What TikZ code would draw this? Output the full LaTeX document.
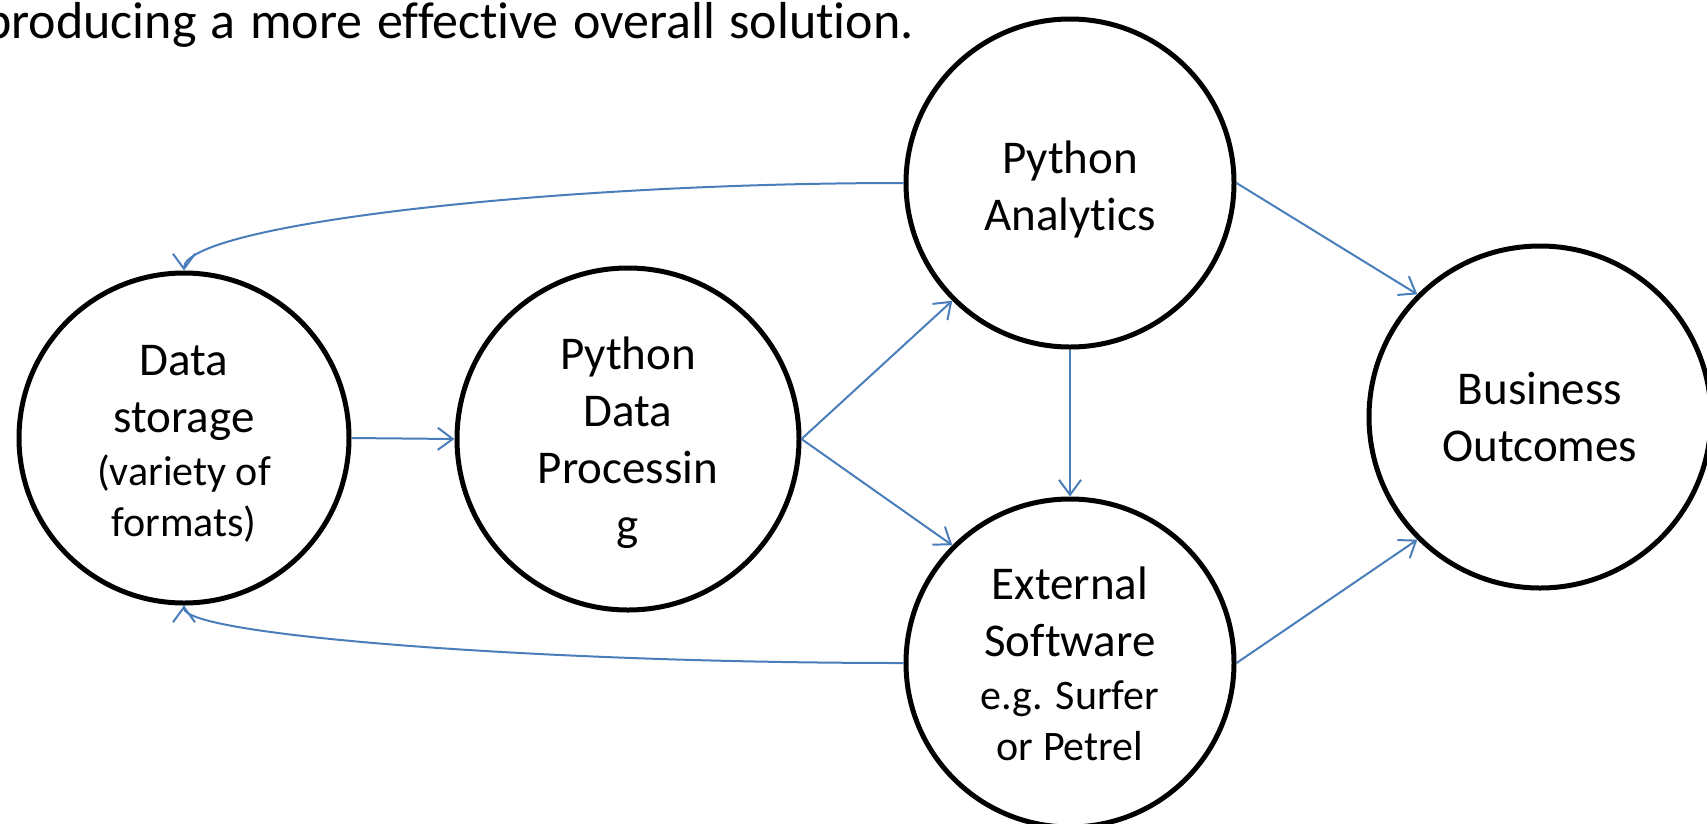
\documentclass[tikz,border=0pt]{standalone}
\usepackage{fontspec}
\setmainfont{Carlito}[Ligatures=NoCommon]
\usetikzlibrary{arrows.meta}
\definecolor{linkblue}{RGB}{74,126,187}
\newcommand{\widespaces}{\spaceskip=14.5pt\relax}
\newcommand{\subline}[1]{{\fontsize{42}{51}\selectfont #1}}
\tikzset{
  stage/.style={circle, draw=black, line width=5pt, fill=white, inner sep=0pt},
  stagetext/.style={align=center, inner sep=0pt, font=\fontsize{47}{57}\selectfont},
  captiontext/.style={inner sep=0pt, font=\fontsize{52}{62}\selectfont\widespaces},
  link/.style={draw=linkblue, line width=2pt,
    -{Straight Barb[length=15pt,width=22pt,line width=2pt]}}
}
\begin{document}
\begin{tikzpicture}[x=1pt,y=-1pt]
\useasboundingbox (0,0) rectangle (1707,823);

% caption fragment at the top
\node[captiontext, anchor=base east] (caption) at (914,38)
  {producing a more effective overall solution.};

% stages
\node[stage, minimum size=330pt] (ds) at (184,438) {};
\node[stage, minimum size=342pt] (pdp) at (628,439) {};
\node[stage, minimum size=328pt] (pa) at (1070,183) {};
\node[stage, minimum size=328pt] (es) at (1070,663) {};
\node[stage, minimum size=342pt] (bo) at (1540,417) {};

% stage labels
\node[stagetext] (ds-text) at (184,444)
  {Data\\storage\\[-4pt]\subline{(variety of}\\[-6pt]\subline{formats)}};
\node[stagetext] (pdp-text) at (628,443)
  {Python\\Data\\Processin\\g};
\node[stagetext] (pa-text) at (1070,189)
  {Python\\Analytics};
\node[stagetext] (es-text) at (1070,664)
  {External\\Software\\[-4pt]\subline{e.g. Surfer}\\[-6pt]\subline{or Petrel}};
\node[stagetext] (bo-text) at (1540,417)
  {Business\\Outcomes};

% flows
\draw[link] (ds.east) -- (pdp.west);
\draw[link] (pdp.east) -- (pa.south west);
\draw[link] (pdp.east) -- (es.north west);
\draw[link] (pa.south) -- (es.north);
\draw[link] (pa.east) -- (bo.north west);
\draw[link] (es.east) -- (bo.south west);

% feedback loops into storage
\draw[link] (pa.west) .. controls +(-360,0) and +(0,-45) .. (ds.north);
\draw[link] (es.west) .. controls +(-360,0) and +(0,30) .. (ds.south);
\end{tikzpicture}
\end{document}
